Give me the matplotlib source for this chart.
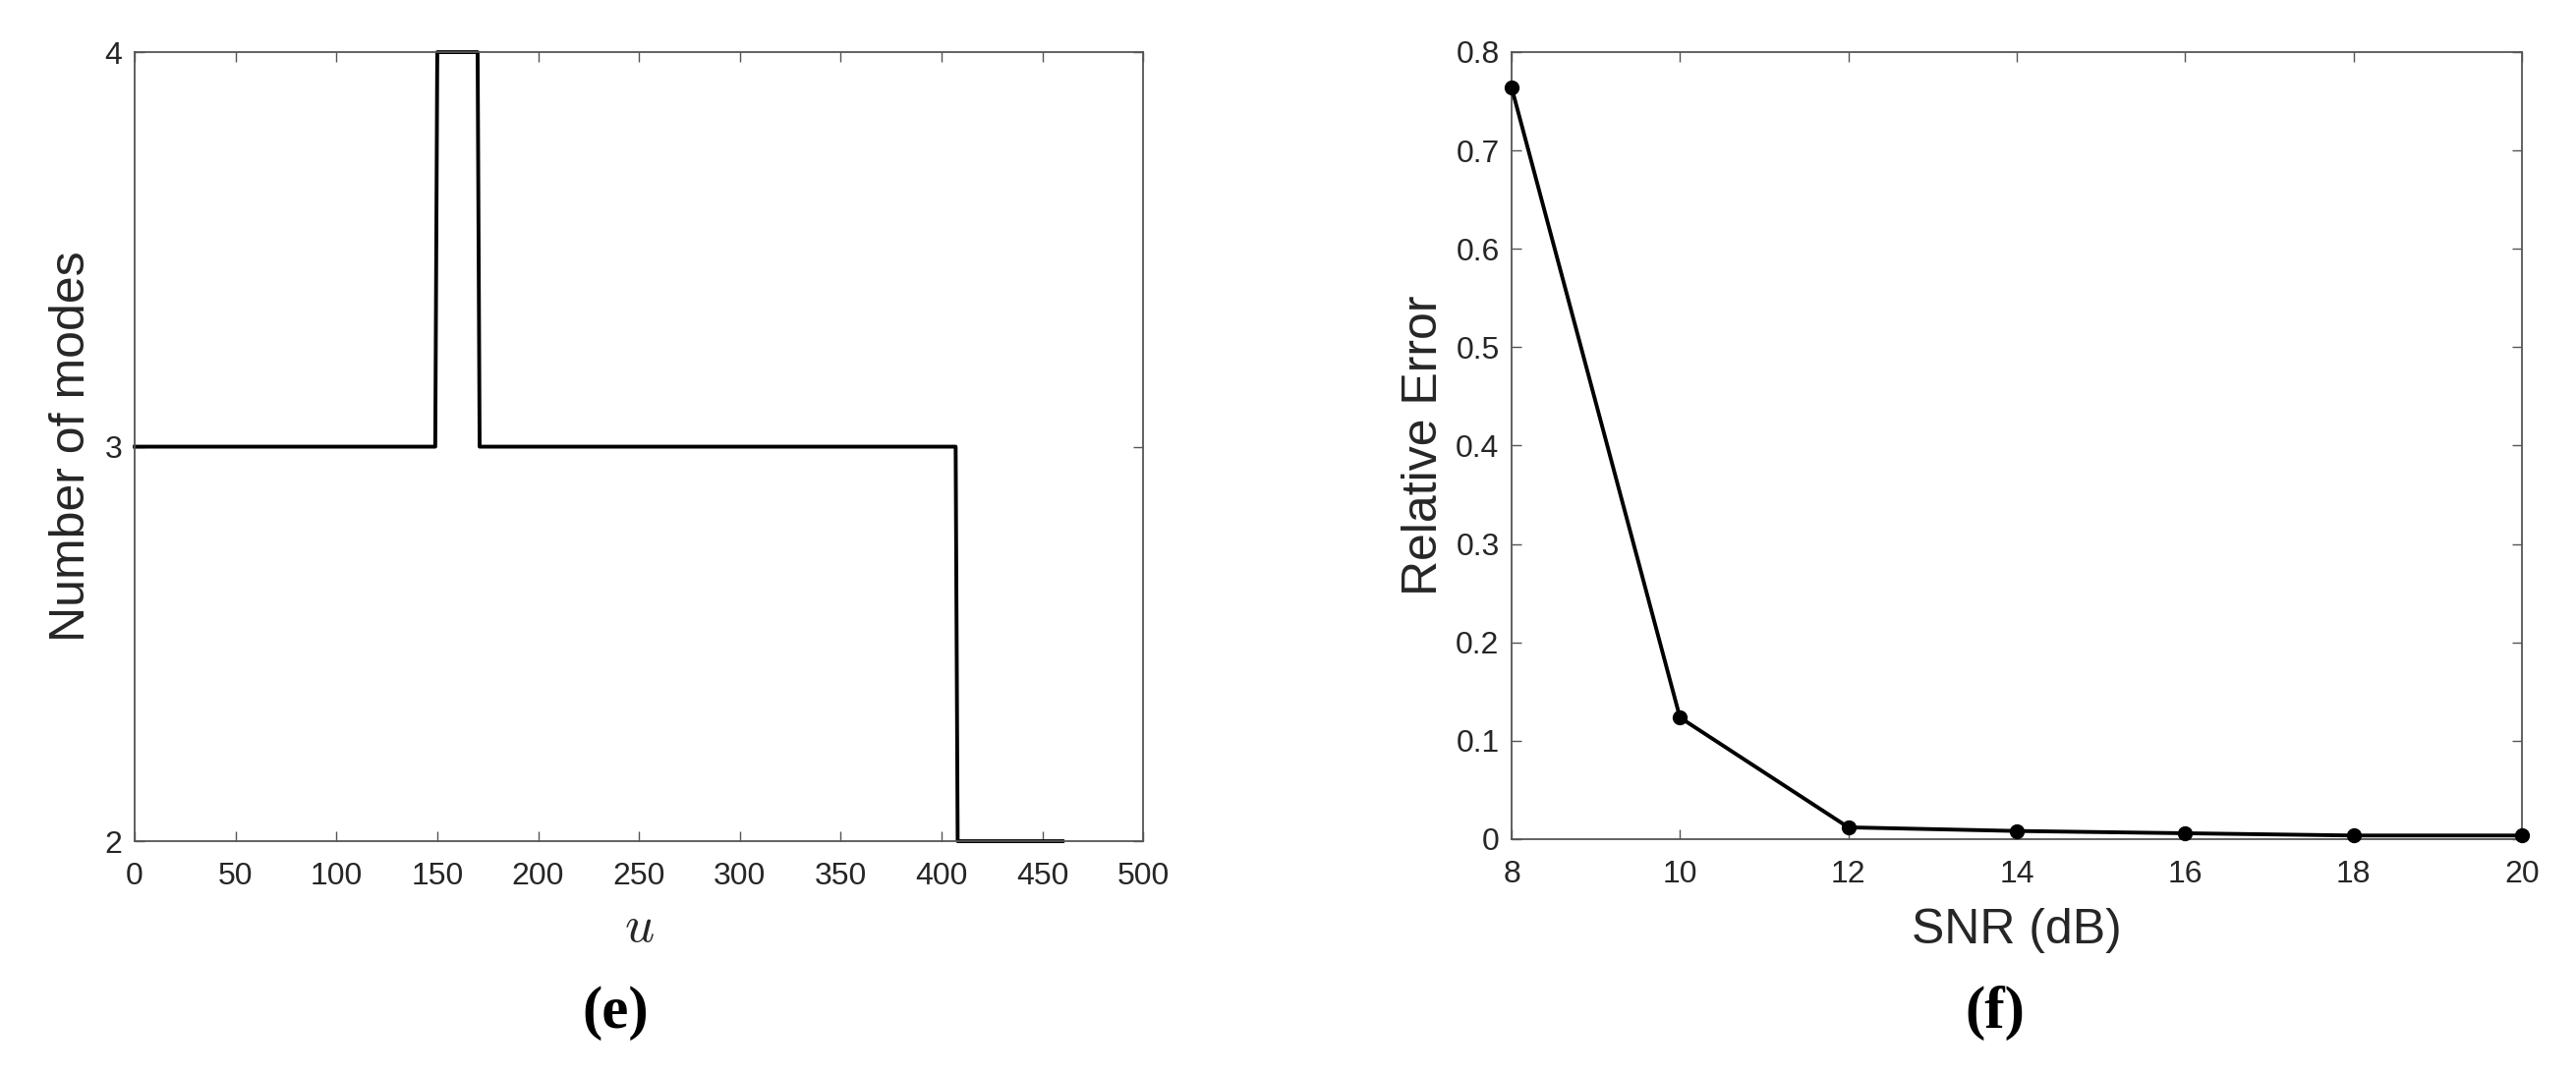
import numpy as np
import matplotlib
matplotlib.use("Agg")
import matplotlib.pyplot as plt

plt.rcParams['font.family'] = ['Liberation Sans', 'DejaVu Sans']
plt.rcParams['mathtext.fontset'] = 'cm'

# (e) number of modes vs u
u = [0, 149, 150, 170, 171, 407, 408, 460]
modes = [3, 3, 4, 4, 3, 3, 2, 2]
u_ticks = [0, 50, 100, 150, 200, 250, 300, 350, 400, 450, 500]
mode_ticks = [2, 3, 4]

# (f) relative error vs SNR
snr = [8, 10, 12, 14, 16, 18, 20]
rel_err = [0.764, 0.1236, 0.012, 0.0083, 0.006, 0.0037, 0.0037]
snr_ticks = [8, 10, 12, 14, 16, 18, 20]
err_ticks = [0, 0.1, 0.2, 0.3, 0.4, 0.5, 0.6, 0.7, 0.8]
err_labels = ['0', '0.1', '0.2', '0.3', '0.4', '0.5', '0.6', '0.7', '0.8']

txt = '#262626'
spine = '#555555'

fig = plt.figure(figsize=(26.21, 10.94), dpi=100)
ax1 = fig.add_axes([0.0523, 0.2175, 0.3915, 0.734])
ax2 = fig.add_axes([0.5868, 0.2194, 0.3922, 0.7322])

def style(ax):
    for s in ax.spines.values():
        s.set_color(spine)
        s.set_linewidth(1.3)
    ax.tick_params(direction='in', length=7.5, width=1, color=spine,
                   top=True, right=True, labelsize=23, labelcolor=txt, pad=9)
    ax.tick_params(axis='x', pad=15)

ax1.plot(u, modes, color='black', linewidth=2.8, clip_on=False)
ax1.set_xlim(0, 500)
ax1.set_ylim(2, 4)
ax1.set_xticks(u_ticks)
ax1.set_yticks(mode_ticks)
style(ax1)
ax1.set_xlabel(r'$u$', fontsize=38, color=txt)
ax1.xaxis.set_label_coords(0.5, -0.078)
ax1.set_ylabel('Number of modes', fontsize=36, color=txt)
ax1.yaxis.set_label_coords(-0.040, 0.5)

ax2.plot(snr, rel_err, color='black', linewidth=2.8, marker='o', markersize=10,
         clip_on=False, zorder=3)
ax2.set_xlim(8, 20)
ax2.set_ylim(0, 0.8)
ax2.set_xticks(snr_ticks)
ax2.set_yticks(err_ticks)
ax2.set_yticklabels(err_labels)
style(ax2)
ax2.set_xlabel('SNR (dB)', fontsize=36, color=txt)
ax2.xaxis.set_label_coords(0.5, -0.088)
ax2.set_ylabel('Relative Error', fontsize=36, color=txt)
ax2.yaxis.set_label_coords(-0.064, 0.5)

# panel letters
fig.text(0.239, 0.058, '(e)', ha='center', va='center', fontsize=44,
         fontweight='bold', family='Liberation Serif')
fig.text(0.7745, 0.058, '(f)', ha='center', va='center', fontsize=44,
         fontweight='bold', family='Liberation Serif')

fig.savefig('out.png', dpi=100)
